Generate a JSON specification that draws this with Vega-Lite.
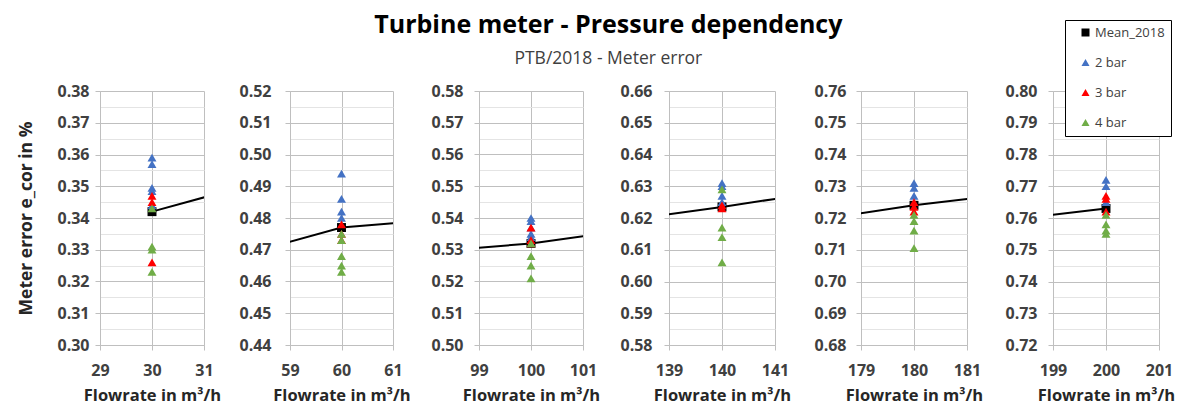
{
  "$schema": "https://vega.github.io/schema/vega-lite/v6.json",
  "padding": {"left": 17, "top": 13, "right": 4, "bottom": 4},
  "background": "white",
  "bounds": "flush",
  "title": {
    "text": "Turbine meter - Pressure dependency",
    "subtitle": "PTB/2018 - Meter error",
    "font": "Open Sans",
    "fontSize": 25,
    "fontWeight": "bold",
    "color": "#000000",
    "subtitleFont": "Open Sans",
    "subtitleFontSize": 17.5,
    "subtitleColor": "#404040",
    "subtitlePadding": 12,
    "anchor": "middle",
    "dx": 12,
    "offset": -48
  },
  "datasets": {
    "meter": [
      {"flow": 30, "series": "Mean_2018", "err": 0.342},
      {"flow": 60, "series": "Mean_2018", "err": 0.477},
      {"flow": 100, "series": "Mean_2018", "err": 0.532},
      {"flow": 140, "series": "Mean_2018", "err": 0.6235},
      {"flow": 180, "series": "Mean_2018", "err": 0.724},
      {"flow": 200, "series": "Mean_2018", "err": 0.763},

      {"flow": 30, "series": "2 bar", "err": 0.359},
      {"flow": 30, "series": "2 bar", "err": 0.357},
      {"flow": 30, "series": "2 bar", "err": 0.3495},
      {"flow": 30, "series": "2 bar", "err": 0.3485},
      {"flow": 30, "series": "2 bar", "err": 0.344},
      {"flow": 60, "series": "2 bar", "err": 0.494},
      {"flow": 60, "series": "2 bar", "err": 0.486},
      {"flow": 60, "series": "2 bar", "err": 0.482},
      {"flow": 60, "series": "2 bar", "err": 0.480},
      {"flow": 100, "series": "2 bar", "err": 0.540},
      {"flow": 100, "series": "2 bar", "err": 0.539},
      {"flow": 100, "series": "2 bar", "err": 0.537},
      {"flow": 100, "series": "2 bar", "err": 0.535},
      {"flow": 100, "series": "2 bar", "err": 0.534},
      {"flow": 140, "series": "2 bar", "err": 0.631},
      {"flow": 140, "series": "2 bar", "err": 0.630},
      {"flow": 140, "series": "2 bar", "err": 0.627},
      {"flow": 140, "series": "2 bar", "err": 0.625},
      {"flow": 180, "series": "2 bar", "err": 0.731},
      {"flow": 180, "series": "2 bar", "err": 0.7295},
      {"flow": 180, "series": "2 bar", "err": 0.727},
      {"flow": 200, "series": "2 bar", "err": 0.772},
      {"flow": 200, "series": "2 bar", "err": 0.770},
      {"flow": 200, "series": "2 bar", "err": 0.765},

      {"flow": 30, "series": "3 bar", "err": 0.347},
      {"flow": 30, "series": "3 bar", "err": 0.345},
      {"flow": 30, "series": "3 bar", "err": 0.326},
      {"flow": 60, "series": "3 bar", "err": 0.478},
      {"flow": 60, "series": "3 bar", "err": 0.475},
      {"flow": 60, "series": "3 bar", "err": 0.473},
      {"flow": 100, "series": "3 bar", "err": 0.537},
      {"flow": 100, "series": "3 bar", "err": 0.533},
      {"flow": 100, "series": "3 bar", "err": 0.532},
      {"flow": 140, "series": "3 bar", "err": 0.624},
      {"flow": 140, "series": "3 bar", "err": 0.623},
      {"flow": 180, "series": "3 bar", "err": 0.725},
      {"flow": 180, "series": "3 bar", "err": 0.7235},
      {"flow": 180, "series": "3 bar", "err": 0.722},
      {"flow": 200, "series": "3 bar", "err": 0.767},
      {"flow": 200, "series": "3 bar", "err": 0.766},
      {"flow": 200, "series": "3 bar", "err": 0.762},

      {"flow": 30, "series": "4 bar", "err": 0.343},
      {"flow": 30, "series": "4 bar", "err": 0.331},
      {"flow": 30, "series": "4 bar", "err": 0.330},
      {"flow": 30, "series": "4 bar", "err": 0.323},
      {"flow": 60, "series": "4 bar", "err": 0.475},
      {"flow": 60, "series": "4 bar", "err": 0.473},
      {"flow": 60, "series": "4 bar", "err": 0.468},
      {"flow": 60, "series": "4 bar", "err": 0.465},
      {"flow": 60, "series": "4 bar", "err": 0.463},
      {"flow": 100, "series": "4 bar", "err": 0.532},
      {"flow": 100, "series": "4 bar", "err": 0.528},
      {"flow": 100, "series": "4 bar", "err": 0.525},
      {"flow": 100, "series": "4 bar", "err": 0.521},
      {"flow": 140, "series": "4 bar", "err": 0.629},
      {"flow": 140, "series": "4 bar", "err": 0.617},
      {"flow": 140, "series": "4 bar", "err": 0.614},
      {"flow": 140, "series": "4 bar", "err": 0.606},
      {"flow": 180, "series": "4 bar", "err": 0.721},
      {"flow": 180, "series": "4 bar", "err": 0.719},
      {"flow": 180, "series": "4 bar", "err": 0.716},
      {"flow": 180, "series": "4 bar", "err": 0.7105},
      {"flow": 200, "series": "4 bar", "err": 0.761},
      {"flow": 200, "series": "4 bar", "err": 0.758},
      {"flow": 200, "series": "4 bar", "err": 0.756},
      {"flow": 200, "series": "4 bar", "err": 0.755}
    ]
  },
  "spacing": 86,
  "hconcat": [
    {
      "width": 104, "height": 254,
      "layer": [
        {
          "data": {"name": "meter"},
          "transform": [{"filter": "datum.series === 'Mean_2018'"}],
          "mark": {"type": "line", "color": "#000000", "strokeWidth": 2, "clip": true},
          "encoding": {
            "x": {"field": "flow", "type": "quantitative", "scale": {"domain": [29, 31], "nice": false, "zero": false},
                  "axis": {"tickCount": 2, "tickMinStep": 1, "format": "d", "title": "Flowrate in m³/h"}},
            "y": {"field": "err", "type": "quantitative", "scale": {"domain": [0.30, 0.38], "nice": false, "zero": false},
                  "axis": {"title": "Meter error e_cor in %", "titlePadding": 21, "titleFontSize": 17.5, "labelPadding": 6, "tickCount": 16,
                           "labelExpr": "round(datum.value*200) % 2 === 0 ? format(datum.value, '.2f') : ''",
                           "gridColor": {"condition": {"test": "round(datum.value*200) % 2 === 0", "value": "#bfbfbf"}, "value": "#e4e4e4"},
                           "tickOpacity": {"condition": {"test": "round(datum.value*200) % 2 === 0", "value": 1}, "value": 0}}}
          }
        },
        {
          "data": {"name": "meter"},
          "transform": [{"filter": "datum.flow === 30"}],
          "mark": {"type": "point", "filled": true, "size": 80, "opacity": 1, "clip": true},
          "encoding": {
            "x": {"field": "flow", "type": "quantitative"},
            "y": {"field": "err", "type": "quantitative"},
            "color": {"field": "series", "type": "nominal", "legend": null,
                      "scale": {"domain": ["Mean_2018", "2 bar", "3 bar", "4 bar"], "range": ["#000000", "#4472C4", "#FF0000", "#70AD47"]}},
            "shape": {"field": "series", "type": "nominal", "legend": null,
                      "scale": {"domain": ["Mean_2018", "2 bar", "3 bar", "4 bar"], "range": ["square", "triangle-up", "triangle-up", "triangle-up"]}}
          }
        }
      ]
    },
    {
      "width": 103, "height": 254,
      "layer": [
        {
          "data": {"name": "meter"},
          "transform": [{"filter": "datum.series === 'Mean_2018'"}],
          "mark": {"type": "line", "color": "#000000", "strokeWidth": 2, "clip": true},
          "encoding": {
            "x": {"field": "flow", "type": "quantitative", "scale": {"domain": [59, 61], "nice": false, "zero": false},
                  "axis": {"tickCount": 2, "tickMinStep": 1, "format": "d", "title": "Flowrate in m³/h"}},
            "y": {"field": "err", "type": "quantitative", "scale": {"domain": [0.44, 0.52], "nice": false, "zero": false},
                  "axis": {"title": null, "labelPadding": 14, "tickCount": 16,
                           "labelExpr": "round(datum.value*200) % 2 === 0 ? format(datum.value, '.2f') : ''",
                           "gridColor": {"condition": {"test": "round(datum.value*200) % 2 === 0", "value": "#bfbfbf"}, "value": "#e4e4e4"},
                           "tickOpacity": {"condition": {"test": "round(datum.value*200) % 2 === 0", "value": 1}, "value": 0}}}
          }
        },
        {
          "data": {"name": "meter"},
          "transform": [{"filter": "datum.flow === 60"}],
          "mark": {"type": "point", "filled": true, "size": 80, "opacity": 1, "clip": true},
          "encoding": {
            "x": {"field": "flow", "type": "quantitative"},
            "y": {"field": "err", "type": "quantitative"},
            "color": {"field": "series", "type": "nominal", "legend": null,
                      "scale": {"domain": ["Mean_2018", "2 bar", "3 bar", "4 bar"], "range": ["#000000", "#4472C4", "#FF0000", "#70AD47"]}},
            "shape": {"field": "series", "type": "nominal", "legend": null,
                      "scale": {"domain": ["Mean_2018", "2 bar", "3 bar", "4 bar"], "range": ["square", "triangle-up", "triangle-up", "triangle-up"]}}
          }
        }
      ]
    },
    {
      "width": 104, "height": 254,
      "layer": [
        {
          "data": {"name": "meter"},
          "transform": [{"filter": "datum.series === 'Mean_2018'"}],
          "mark": {"type": "line", "color": "#000000", "strokeWidth": 2, "clip": true},
          "encoding": {
            "x": {"field": "flow", "type": "quantitative", "scale": {"domain": [99, 101], "nice": false, "zero": false},
                  "axis": {"tickCount": 2, "tickMinStep": 1, "format": "d", "title": "Flowrate in m³/h"}},
            "y": {"field": "err", "type": "quantitative", "scale": {"domain": [0.50, 0.58], "nice": false, "zero": false},
                  "axis": {"title": null, "labelPadding": 11, "tickCount": 16,
                           "labelExpr": "round(datum.value*200) % 2 === 0 ? format(datum.value, '.2f') : ''",
                           "gridColor": {"condition": {"test": "round(datum.value*200) % 2 === 0", "value": "#bfbfbf"}, "value": "#e4e4e4"},
                           "tickOpacity": {"condition": {"test": "round(datum.value*200) % 2 === 0", "value": 1}, "value": 0}}}
          }
        },
        {
          "data": {"name": "meter"},
          "transform": [{"filter": "datum.flow === 100"}],
          "mark": {"type": "point", "filled": true, "size": 80, "opacity": 1, "clip": true},
          "encoding": {
            "x": {"field": "flow", "type": "quantitative"},
            "y": {"field": "err", "type": "quantitative"},
            "color": {"field": "series", "type": "nominal", "legend": null,
                      "scale": {"domain": ["Mean_2018", "2 bar", "3 bar", "4 bar"], "range": ["#000000", "#4472C4", "#FF0000", "#70AD47"]}},
            "shape": {"field": "series", "type": "nominal", "legend": null,
                      "scale": {"domain": ["Mean_2018", "2 bar", "3 bar", "4 bar"], "range": ["square", "triangle-up", "triangle-up", "triangle-up"]}}
          }
        }
      ]
    },
    {
      "width": 106, "height": 254,
      "layer": [
        {
          "data": {"name": "meter"},
          "transform": [{"filter": "datum.series === 'Mean_2018'"}],
          "mark": {"type": "line", "color": "#000000", "strokeWidth": 2, "clip": true},
          "encoding": {
            "x": {"field": "flow", "type": "quantitative", "scale": {"domain": [139, 141], "nice": false, "zero": false},
                  "axis": {"tickCount": 2, "tickMinStep": 1, "format": "d", "title": "Flowrate in m³/h"}},
            "y": {"field": "err", "type": "quantitative", "scale": {"domain": [0.58, 0.66], "nice": false, "zero": false},
                  "axis": {"title": null, "labelPadding": 12, "tickCount": 16,
                           "labelExpr": "round(datum.value*200) % 2 === 0 ? format(datum.value, '.2f') : ''",
                           "gridColor": {"condition": {"test": "round(datum.value*200) % 2 === 0", "value": "#bfbfbf"}, "value": "#e4e4e4"},
                           "tickOpacity": {"condition": {"test": "round(datum.value*200) % 2 === 0", "value": 1}, "value": 0}}}
          }
        },
        {
          "data": {"name": "meter"},
          "transform": [{"filter": "datum.flow === 140"}],
          "mark": {"type": "point", "filled": true, "size": 80, "opacity": 1, "clip": true},
          "encoding": {
            "x": {"field": "flow", "type": "quantitative"},
            "y": {"field": "err", "type": "quantitative"},
            "color": {"field": "series", "type": "nominal", "legend": null,
                      "scale": {"domain": ["Mean_2018", "2 bar", "3 bar", "4 bar"], "range": ["#000000", "#4472C4", "#FF0000", "#70AD47"]}},
            "shape": {"field": "series", "type": "nominal", "legend": null,
                      "scale": {"domain": ["Mean_2018", "2 bar", "3 bar", "4 bar"], "range": ["square", "triangle-up", "triangle-up", "triangle-up"]}}
          }
        }
      ]
    },
    {
      "width": 106, "height": 254,
      "layer": [
        {
          "data": {"name": "meter"},
          "transform": [{"filter": "datum.series === 'Mean_2018'"}],
          "mark": {"type": "line", "color": "#000000", "strokeWidth": 2, "clip": true},
          "encoding": {
            "x": {"field": "flow", "type": "quantitative", "scale": {"domain": [179, 181], "nice": false, "zero": false},
                  "axis": {"tickCount": 2, "tickMinStep": 1, "format": "d", "title": "Flowrate in m³/h"}},
            "y": {"field": "err", "type": "quantitative", "scale": {"domain": [0.68, 0.76], "nice": false, "zero": false},
                  "axis": {"title": null, "labelPadding": 10, "tickCount": 16,
                           "labelExpr": "round(datum.value*200) % 2 === 0 ? format(datum.value, '.2f') : ''",
                           "gridColor": {"condition": {"test": "round(datum.value*200) % 2 === 0", "value": "#bfbfbf"}, "value": "#e4e4e4"},
                           "tickOpacity": {"condition": {"test": "round(datum.value*200) % 2 === 0", "value": 1}, "value": 0}}}
          }
        },
        {
          "data": {"name": "meter"},
          "transform": [{"filter": "datum.flow === 180"}],
          "mark": {"type": "point", "filled": true, "size": 80, "opacity": 1, "clip": true},
          "encoding": {
            "x": {"field": "flow", "type": "quantitative"},
            "y": {"field": "err", "type": "quantitative"},
            "color": {"field": "series", "type": "nominal", "legend": null,
                      "scale": {"domain": ["Mean_2018", "2 bar", "3 bar", "4 bar"], "range": ["#000000", "#4472C4", "#FF0000", "#70AD47"]}},
            "shape": {"field": "series", "type": "nominal", "legend": null,
                      "scale": {"domain": ["Mean_2018", "2 bar", "3 bar", "4 bar"], "range": ["square", "triangle-up", "triangle-up", "triangle-up"]}}
          }
        }
      ]
    },
    {
      "width": 106, "height": 254,
      "layer": [
        {
          "data": {"name": "meter"},
          "transform": [{"filter": "datum.series === 'Mean_2018'"}],
          "mark": {"type": "line", "color": "#000000", "strokeWidth": 2, "clip": true},
          "encoding": {
            "x": {"field": "flow", "type": "quantitative", "scale": {"domain": [199, 201], "nice": false, "zero": false},
                  "axis": {"tickCount": 2, "tickMinStep": 1, "format": "d", "title": "Flowrate in m³/h"}},
            "y": {"field": "err", "type": "quantitative", "scale": {"domain": [0.72, 0.80], "nice": false, "zero": false},
                  "axis": {"title": null, "labelPadding": 11, "tickCount": 16,
                           "labelExpr": "round(datum.value*200) % 2 === 0 ? format(datum.value, '.2f') : ''",
                           "gridColor": {"condition": {"test": "round(datum.value*200) % 2 === 0", "value": "#bfbfbf"}, "value": "#e4e4e4"},
                           "tickOpacity": {"condition": {"test": "round(datum.value*200) % 2 === 0", "value": 1}, "value": 0}}}
          }
        },
        {
          "data": {"name": "meter"},
          "transform": [{"filter": "datum.flow === 200"}],
          "mark": {"type": "point", "filled": true, "size": 80, "opacity": 1, "clip": true},
          "encoding": {
            "x": {"field": "flow", "type": "quantitative"},
            "y": {"field": "err", "type": "quantitative"},
            "color": {"field": "series", "type": "nominal",
                      "scale": {"domain": ["Mean_2018", "2 bar", "3 bar", "4 bar"], "range": ["#000000", "#4472C4", "#FF0000", "#70AD47"]},
                      "legend": {"orient": "none", "legendX": 12, "legendY": -71,
                        "encode": {"symbols": {
                          "shape": {"condition": {"test": "datum.value === 'Mean_2018'", "value": "M-3.2,0H3.2M-0.9,-0.9H0.9V0.9H-0.9Z"}, "value": "triangle-up"},
                          "stroke": {"condition": {"test": "datum.value === 'Mean_2018'", "value": "#000000"}, "value": "transparent"},
                          "strokeWidth": {"value": 1.5},
                          "size": {"condition": {"test": "datum.value === 'Mean_2018'", "value": 64}, "value": 32}}}}},
            "shape": {"field": "series", "type": "nominal",
                      "scale": {"domain": ["Mean_2018", "2 bar", "3 bar", "4 bar"], "range": ["square", "triangle-up", "triangle-up", "triangle-up"]},
                      "legend": {"orient": "none", "legendX": 12, "legendY": -71,
                        "encode": {"symbols": {
                          "shape": {"condition": {"test": "datum.value === 'Mean_2018'", "value": "M-3.2,0H3.2M-0.9,-0.9H0.9V0.9H-0.9Z"}, "value": "triangle-up"},
                          "stroke": {"condition": {"test": "datum.value === 'Mean_2018'", "value": "#000000"}, "value": "transparent"},
                          "strokeWidth": {"value": 1.5},
                          "size": {"condition": {"test": "datum.value === 'Mean_2018'", "value": 64}, "value": 32}}}}}
          }
        }
      ]
    }
  ],
  "resolve": {
    "scale": {"x": "independent", "y": "independent", "color": "independent", "shape": "independent"},
    "legend": {"color": "independent", "shape": "independent"}
  },
  "config": {
    "font": "Open Sans",
    "view": {"stroke": null},
    "axis": {
      "labelFont": "Open Sans",
      "labelFontSize": 16,
      "labelFontWeight": "bold",
      "labelColor": "#404040",
      "labelOverlap": false,
      "labelFlush": false,
      "titleFont": "Open Sans",
      "titleFontSize": 16.5,
      "titleFontWeight": "bold",
      "titleColor": "#262626",
      "domainColor": "#bfbfbf",
      "tickColor": "#bfbfbf",
      "gridColor": "#bfbfbf",
      "grid": true,
      "tickSize": 5
    },
    "axisX": {"labelPadding": 12, "titlePadding": 9},
    "legend": {
      "title": null,
      "strokeColor": "#000000",
      "fillColor": "#ffffff",
      "padding": 6,
      "rowPadding": 16,
      "symbolSize": 64,
      "symbolOffset": 8,
      "labelOffset": 3,
      "labelFont": "Open Sans",
      "labelFontSize": 13,
      "labelColor": "#404040"
    }
  }
}
